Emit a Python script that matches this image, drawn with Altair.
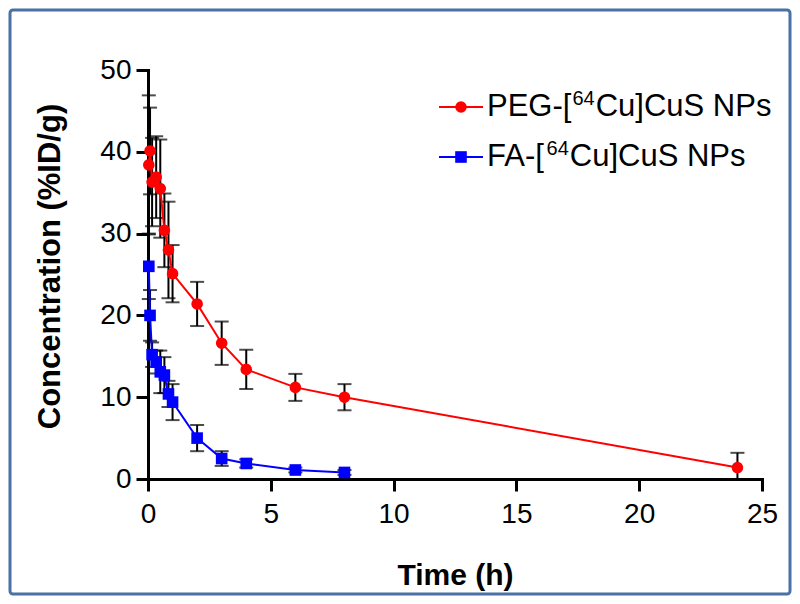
import altair as alt
import pandas as pd

# ---- data ----
time_peg = [0.033, 0.083, 0.167, 0.333, 0.5, 0.667, 0.833, 1, 2, 3, 4, 6, 8, 24]
peg_mean = [38.4, 40.1, 36.3, 36.9, 35.5, 30.4, 28.0, 25.1, 21.4, 16.6, 13.4, 11.2, 10.0, 1.4]
peg_sd = [8.5, 5.3, 5.4, 5.0, 6.0, 4.5, 5.9, 3.5, 2.7, 2.65, 2.4, 1.65, 1.6, 1.8]

time_fa = [0.033, 0.083, 0.167, 0.333, 0.5, 0.667, 0.833, 1, 2, 3, 4, 6, 8]
fa_mean = [26.0, 20.0, 15.2, 14.3, 13.1, 12.7, 10.4, 9.4, 5.0, 2.5, 1.9, 1.1, 0.8]
fa_sd = [4.0, 3.1, 1.5, 1.4, 2.6, 2.2, 1.6, 2.2, 1.6, 0.9, 0.5, 0.3, 0.3]

series_names = ["PEG", "FA"]
legend_prefix = ["PEG-[", "FA-["]
legend_sup = ["64", "64"]
legend_suffix = ["Cu]CuS NPs", "Cu]CuS NPs"]
series_colors = ["#ff0000", "#0000ff"]
series_shapes = ["circle", "square"]
x_ticks = [0, 5, 10, 15, 20, 25]
y_ticks = [0, 10, 20, 30, 40, 50]

peg = pd.DataFrame({"time": time_peg, "mean": peg_mean, "sd": peg_sd, "series": "PEG"})
fa = pd.DataFrame({"time": time_fa, "mean": fa_mean, "sd": fa_sd, "series": "FA"})
df = pd.concat([peg, fa], ignore_index=True)
df["lo"] = (df["mean"] - df["sd"]).clip(lower=0)
df["hi"] = df["mean"] + df["sd"]

FONT = "Liberation Sans"

xs = alt.Scale(domain=[0, 25], nice=False)
ys = alt.Scale(domain=[0, 50], nice=False)
col = alt.Scale(domain=series_names, range=series_colors)
shp = alt.Scale(domain=series_names, range=series_shapes)

x_axis = alt.Axis(
    values=x_ticks, title="Time (h)", grid=False, labelFlush=False,
    labelFont=FONT, labelFontSize=28, labelColor="black", labelPadding=9,
    tickSize=12, tickWidth=3, tickColor="black",
    domainWidth=3, domainColor="black", domainCap="square",
    titleFont=FONT, titleFontSize=30, titleFontWeight="bold", titleColor="black",
    titleY=96, titleBaseline="middle",
)
y_axis = alt.Axis(
    values=y_ticks, title="Concentration (%ID/g)", grid=False,
    labelFont=FONT, labelFontSize=28, labelColor="black", labelPadding=5,
    tickSize=12, tickWidth=3, tickColor="black",
    domainWidth=3, domainColor="black", domainCap="square",
    titleFont=FONT, titleFontSize=31, titleFontWeight="bold", titleColor="black",
    titleX=-98, titleY=196, titleAngle=270, titleAlign="center", titleBaseline="middle",
)

X = alt.X("time:Q", scale=xs, axis=x_axis)
Y = alt.Y("mean:Q", scale=ys, axis=y_axis)

base = alt.Chart(df)

bars = base.mark_rule(color="black", strokeWidth=2).encode(
    x=X, y=alt.Y("lo:Q", scale=ys, axis=y_axis), y2="hi:Q"
)
caps_hi = base.mark_tick(orient="horizontal", color="black", thickness=2, size=14).encode(
    x=X, y=alt.Y("hi:Q", scale=ys, axis=y_axis)
)
caps_lo = base.mark_tick(orient="horizontal", color="black", thickness=2, size=14).encode(
    x=X, y=alt.Y("lo:Q", scale=ys, axis=y_axis)
)
lines = base.mark_line(strokeWidth=2).encode(
    x=X, y=Y, color=alt.Color("series:N", scale=col, legend=None)
)
points = base.mark_point(filled=True, opacity=1, size=135).encode(
    x=X, y=Y,
    color=alt.Color("series:N", scale=col, legend=None),
    shape=alt.Shape("series:N", scale=shp, legend=None),
)

# ---- manual legend (Liberation Sans has Arial metrics) ----
MAIN = 31
SUP = 20
ADV = {"P": .667, "E": .667, "G": .778, "-": .333, "[": .278, "F": .611, "A": .667,
       "6": .556, "4": .556}

def width(s, size):
    return sum(ADV[ch] for ch in s) * size

one = pd.DataFrame({"a": [0]})
leg_layers = []
for i in range(len(series_names)):
    c, s = series_colors[i], series_shapes[i]
    yy = 37 + 50 * i
    x0 = 339
    x1 = x0 + width(legend_prefix[i], MAIN) + 1
    x2 = x1 + width(legend_sup[i], SUP) + 1
    leg_layers.append(
        alt.Chart(one).mark_rule(color=c, strokeWidth=2).encode(
            x=alt.value(291), x2=alt.value(335), y=alt.value(yy)
        )
    )
    leg_layers.append(
        alt.Chart(one).mark_point(filled=True, opacity=1, size=135, shape=s, color=c).encode(
            x=alt.value(313), y=alt.value(yy)
        )
    )
    for txt, xx, fs, dy in [(legend_prefix[i], x0, MAIN, 0),
                            (legend_sup[i], x1, SUP, -8),
                            (legend_suffix[i], x2, MAIN, 0)]:
        leg_layers.append(
            alt.Chart(pd.DataFrame({"label": [txt]})).mark_text(
                font=FONT, fontSize=fs, color="black", align="left", baseline="middle"
            ).encode(x=alt.value(xx), y=alt.value(yy + dy), text="label:N")
        )

frame = alt.Chart(one).mark_rect(
    filled=False, stroke="#4a70a6", strokeWidth=3, cornerRadius=3
).encode(x=alt.value(-138), x2=alt.value(642), y=alt.value(-60), y2=alt.value(524))

chart = alt.layer(
    frame, bars, caps_hi, caps_lo, lines, points, *leg_layers
).properties(
    width=614, height=409,
    padding={"left": 140, "top": 62, "right": 30, "bottom": 117},
    autosize=alt.AutoSizeParams(type="none"),
).configure(background="white").configure_view(stroke=None)

chart.save("out.html", embed_options={"renderer": "svg", "actions": False})
